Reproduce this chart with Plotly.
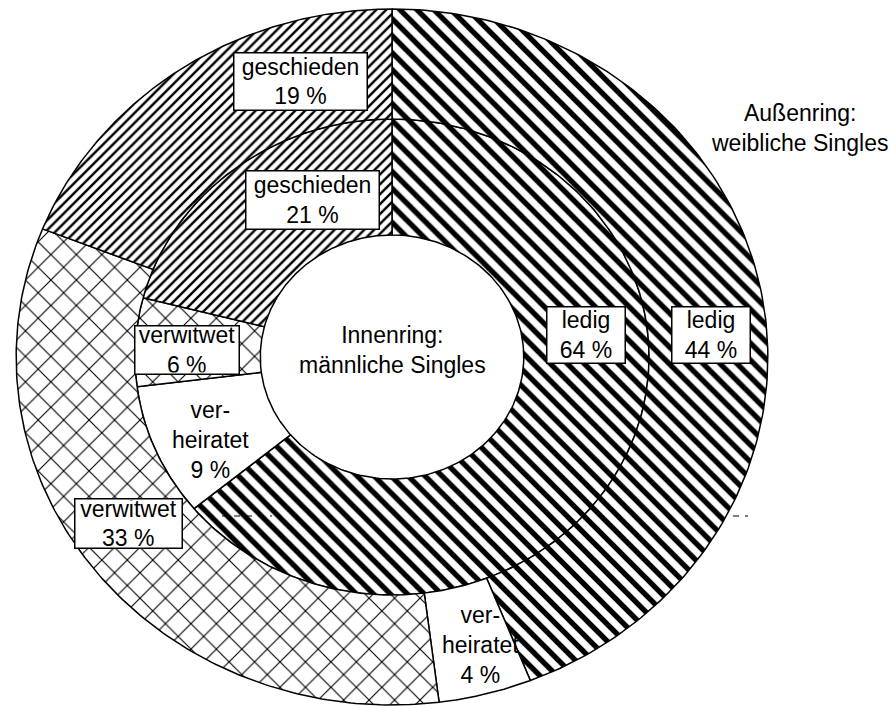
import numpy as np
import plotly.graph_objects as go

# Familienstand der Singles (Anteile in %)
categories = ["ledig", "verheiratet", "verwitwet", "geschieden"]
inner_share = [64, 9, 6, 21]   # Innenring: männliche Singles
outer_share = [44, 4, 33, 19]  # Außenring: weibliche Singles
slice_names = ["ledig", "ver-<br>heiratet", "verwitwet", "geschieden"]

# geometry (pixel units of the page, y axis reversed)
cx, cy = 392, 357
aspect = 1.08
r_hole, r_mid, r_out = 122, 238, 348

patterns = {
    "ledig": dict(shape="\\", size=12, solidity=0.45),
    "verheiratet": dict(shape="", size=10, solidity=0.3),
    "verwitwet": dict(shape="x", size=18, solidity=0.12),
    "geschieden": dict(shape="/", size=7, solidity=0.35),
}

# label boxes: (x, y, box width, box height, boxed)
inner_labels = {
    "ledig": (586, 335, 79, 57, True),
    "verheiratet": (210, 440, 0, 0, False),
    "verwitwet": (187, 350, 105, 49, True),
    "geschieden": (312, 200, 134, 59, True),
}
outer_labels = {
    "ledig": (711, 335, 79, 57, True),
    "verheiratet": (480, 645, 0, 0, False),
    "verwitwet": (128, 523, 108, 50, True),
    "geschieden": (300, 81, 134, 58, True),
}


def wedge(r0, r1, a0, a1):
    t = np.radians(np.linspace(a0, a1, 160))
    xo = cx + r1 * aspect * np.sin(t)
    yo = cy - r1 * np.cos(t)
    xi = cx + r0 * aspect * np.sin(t[::-1])
    yi = cy - r0 * np.cos(t[::-1])
    return np.concatenate([xo, xi, xo[:1]]), np.concatenate([yo, yi, yo[:1]])


fig = go.Figure()
font = dict(family="Liberation Sans, Arial, sans-serif", size=23, color="black")

for shares, r0, r1, lab in [(inner_share, r_hole, r_mid, inner_labels),
                            (outer_share, r_mid, r_out, outer_labels)]:
    start = 0.0
    for cat, name, v in zip(categories, slice_names, shares):
        a0 = start * 3.6
        a1 = (start + v) * 3.6
        start += v
        x, y = wedge(r0, r1, a0, a1)
        p = patterns[cat]
        fig.add_trace(go.Scatter(
            x=x, y=y, mode="lines", fill="toself", fillcolor="white",
            fillpattern=dict(shape=p["shape"], size=p["size"], solidity=p["solidity"],
                             fgcolor="black", bgcolor="white", fgopacity=1),
            line=dict(color="black", width=1.5),
            hoverinfo="skip", showlegend=False))
        lx, ly, bw, bh, boxed = lab[cat]
        ann = dict(x=lx, y=ly, xref="x", yref="y", showarrow=False,
                   text=f"{name}<br>{v} %", font=font)
        if boxed:
            ann.update(bgcolor="white", bordercolor="black", borderwidth=1.5,
                       borderpad=1, width=bw - 4, height=bh - 4)
        fig.add_annotation(**ann)

fig.add_annotation(x=cx, y=350, xref="x", yref="y", showarrow=False,
                   text="Innenring:<br>männliche Singles", font=font)
fig.add_annotation(x=799, y=128, xref="x", yref="y", showarrow=False,
                   text="Außenring:<br>weibliche Singles", font=font)

# small dashed scan artefacts of the original
for x0, x1 in [(222, 272), (733, 748)]:
    fig.add_shape(type="line", x0=x0, x1=x1, y0=516, y1=516, xref="x", yref="y",
                  line=dict(color="black", width=1.2, dash="6px,6px"))

fig.update_layout(
    width=890, height=709,
    margin=dict(l=0, r=0, t=0, b=0),
    paper_bgcolor="white", plot_bgcolor="white",
    xaxis=dict(range=[0, 890], visible=False, fixedrange=True),
    yaxis=dict(range=[709, 0], visible=False, fixedrange=True),
)

fig.write_html(
    "out.html",
    config={"displayModeBar": False},
    post_script="document.body.style.margin='0';document.body.style.overflow='hidden';",
)
